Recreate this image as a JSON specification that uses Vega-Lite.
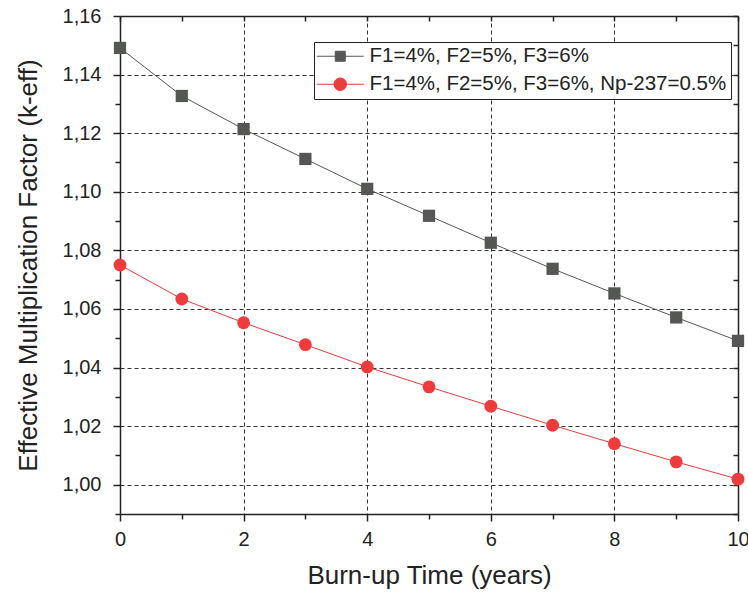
{
  "$schema": "https://vega.github.io/schema/vega-lite/v6.json",
  "width": 618,
  "height": 498,
  "autosize": {"type": "none"},
  "padding": {"left": 120, "top": 16, "right": 10, "bottom": 80},
  "background": "white",
  "config": {
    "view": {"stroke": null},
    "font": "Liberation Sans",
    "axis": {
      "labelFont": "Liberation Sans",
      "titleFont": "Liberation Sans",
      "labelColor": "#222",
      "titleColor": "#222",
      "labelFontSize": 20,
      "titleFontSize": 26,
      "titleFontWeight": "normal",
      "domainColor": "#222",
      "domainWidth": 1.5,
      "tickColor": "#222",
      "tickWidth": 1.5,
      "gridColor": "#333",
      "gridDash": [4, 3],
      "gridWidth": 1
    }
  },
  "data": {
    "values": [
      {"t": 0, "k": 1.1491, "series": "F1=4%, F2=5%, F3=6%"},
      {"t": 1, "k": 1.1327, "series": "F1=4%, F2=5%, F3=6%"},
      {"t": 2, "k": 1.1214, "series": "F1=4%, F2=5%, F3=6%"},
      {"t": 3, "k": 1.1112, "series": "F1=4%, F2=5%, F3=6%"},
      {"t": 4, "k": 1.101, "series": "F1=4%, F2=5%, F3=6%"},
      {"t": 5, "k": 1.0918, "series": "F1=4%, F2=5%, F3=6%"},
      {"t": 6, "k": 1.0826, "series": "F1=4%, F2=5%, F3=6%"},
      {"t": 7, "k": 1.0737, "series": "F1=4%, F2=5%, F3=6%"},
      {"t": 8, "k": 1.0653, "series": "F1=4%, F2=5%, F3=6%"},
      {"t": 9, "k": 1.0571, "series": "F1=4%, F2=5%, F3=6%"},
      {"t": 10, "k": 1.0491, "series": "F1=4%, F2=5%, F3=6%"},
      {"t": 0, "k": 1.075, "series": "F1=4%, F2=5%, F3=6%, Np-237=0.5%"},
      {"t": 1, "k": 1.0634, "series": "F1=4%, F2=5%, F3=6%, Np-237=0.5%"},
      {"t": 2, "k": 1.0553, "series": "F1=4%, F2=5%, F3=6%, Np-237=0.5%"},
      {"t": 3, "k": 1.0478, "series": "F1=4%, F2=5%, F3=6%, Np-237=0.5%"},
      {"t": 4, "k": 1.0402, "series": "F1=4%, F2=5%, F3=6%, Np-237=0.5%"},
      {"t": 5, "k": 1.0334, "series": "F1=4%, F2=5%, F3=6%, Np-237=0.5%"},
      {"t": 6, "k": 1.0268, "series": "F1=4%, F2=5%, F3=6%, Np-237=0.5%"},
      {"t": 7, "k": 1.0203, "series": "F1=4%, F2=5%, F3=6%, Np-237=0.5%"},
      {"t": 8, "k": 1.014, "series": "F1=4%, F2=5%, F3=6%, Np-237=0.5%"},
      {"t": 9, "k": 1.0078, "series": "F1=4%, F2=5%, F3=6%, Np-237=0.5%"},
      {"t": 10, "k": 1.0019, "series": "F1=4%, F2=5%, F3=6%, Np-237=0.5%"}
    ]
  },
  "layer": [
    {
      "mark": {"type": "line", "strokeWidth": 1, "clip": false},
      "encoding": {
        "x": {
          "field": "t", "type": "quantitative",
          "scale": {"domain": [0, 10], "nice": false, "zero": false},
          "axis": {
            "orient": "bottom",
            "title": "Burn-up Time (years)",
            "values": [0, 1, 2, 3, 4, 5, 6, 7, 8, 9, 10],
            "labelExpr": "datum.value % 2 === 0 ? datum.value + '' : ''",
            "grid": true,
            "gridOpacity": {"condition": {"test": "datum.value % 2 === 1 || datum.value === 0 || datum.value === 10", "value": 0}, "value": 1},
            "tickSize": {"condition": {"test": "datum.value % 2 === 1", "value": 5}, "value": 7},
            "labelPadding": 8,
            "labelFlush": false,
            "labelOverlap": false,
            "titlePadding": 13
          }
        },
        "y": {
          "field": "k", "type": "quantitative",
          "scale": {"domain": [0.99, 1.16], "nice": false, "zero": false},
          "axis": {
            "orient": "left",
            "title": "Effective Multiplication Factor (k-eff)",
            "values": [0.99, 1.0, 1.01, 1.02, 1.03, 1.04, 1.05, 1.06, 1.07, 1.08, 1.09, 1.1, 1.11, 1.12, 1.13, 1.14, 1.15, 1.16],
            "labelExpr": "round(datum.value * 100) % 2 === 0 ? replace(format(datum.value, '.2f'), '.', ',') : ''",
            "grid": true,
            "gridOpacity": {"condition": {"test": "round(datum.value * 100) % 2 === 1 || round(datum.value * 100) === 116", "value": 0}, "value": 1},
            "tickSize": {"condition": {"test": "round(datum.value * 100) % 2 === 1", "value": 5}, "value": 7},
            "labelPadding": 12,
            "labelFlush": false,
            "labelOverlap": false,
            "titlePadding": 21
          }
        },
        "color": {
          "field": "series", "type": "nominal",
          "scale": {"domain": ["F1=4%, F2=5%, F3=6%", "F1=4%, F2=5%, F3=6%, Np-237=0.5%"], "range": ["#555755", "#ef3b3b"]},
          "legend": {
            "title": null,
            "orient": "none",
            "legendX": 194,
            "legendY": 26,
            "strokeColor": "#222",
            "fillColor": "white",
            "padding": 4,
            "labelFont": "Liberation Sans",
            "labelFontSize": 20.5,
            "labelColor": "#222",
            "labelLimit": 500,
            "symbolSize": 100,
            "symbolOffset": 12,
            "labelOffset": 19,
            "rowPadding": 7,
            "symbolStrokeWidth": 1,
            "encode": {
              "symbols": {
                "update": {
                  "shape": {"signal": "datum.value === 'F1=4%, F2=5%, F3=6%' ? 'M-4.7,0H4.7M-1,-1H1V1H-1Z' : 'M-4.7,0H4.7M1.25,0A1.25,1.25,0,1,1,-1.25,0A1.25,1.25,0,1,1,1.25,0Z'"},
                  "fill": {"signal": "scale('color', datum.value)"},
                  "stroke": {"signal": "scale('color', datum.value)"},
                  "strokeWidth": {"value": 1},
                  "fillOpacity": {"value": 1},
                  "opacity": {"value": 1}
                }
              }
            }
          }
        }
      }
    },
    {
      "transform": [{"filter": "datum.series === 'F1=4%, F2=5%, F3=6%'"}],
      "mark": {"type": "point", "filled": true, "opacity": 1, "clip": false, "shape": "square", "color": "#555755", "size": 150},
      "encoding": {
        "x": {
          "field": "t", "type": "quantitative",
          "scale": {"domain": [0, 10], "nice": false, "zero": false},
          "axis": {
            "orient": "top", "title": null, "labels": false, "grid": false,
            "values": [0, 1, 2, 3, 4, 5, 6, 7, 8, 9, 10],
            "tickSize": -5
          }
        },
        "y": {
          "field": "k", "type": "quantitative",
          "scale": {"domain": [0.99, 1.16], "nice": false, "zero": false},
          "axis": {
            "orient": "right", "title": null, "labels": false, "grid": false,
            "values": [0.99, 1.0, 1.01, 1.02, 1.03, 1.04, 1.05, 1.06, 1.07, 1.08, 1.09, 1.1, 1.11, 1.12, 1.13, 1.14, 1.15, 1.16],
            "tickSize": -5
          }
        }
      }
    },
    {
      "transform": [{"filter": "datum.series === 'F1=4%, F2=5%, F3=6%, Np-237=0.5%'"}],
      "mark": {"type": "point", "filled": true, "opacity": 1, "clip": false, "shape": "circle", "color": "#ef3b3b", "size": 165},
      "encoding": {
        "x": {
          "field": "t", "type": "quantitative",
          "scale": {"domain": [0, 10], "nice": false, "zero": false},
          "axis": null
        },
        "y": {
          "field": "k", "type": "quantitative",
          "scale": {"domain": [0.99, 1.16], "nice": false, "zero": false},
          "axis": null
        }
      }
    }
  ],
  "resolve": {"scale": {"x": "independent", "y": "independent"}, "axis": {"x": "independent", "y": "independent"}}
}
